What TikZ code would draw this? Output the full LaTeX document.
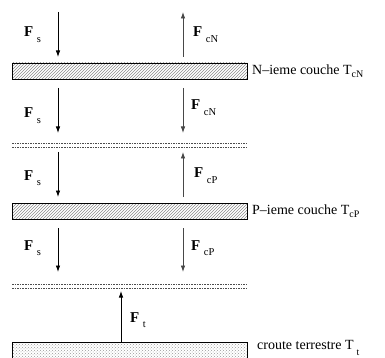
\documentclass[tikz,border=0pt]{standalone}
\usepackage{fontspec}
\setmainfont{Liberation Serif}
\usetikzlibrary{patterns,arrows.meta}
\begin{document}
\begin{tikzpicture}[x=1pt,y=-1pt,
  bar/.style={draw=black,line width=0.7pt,pattern=north east lines,pattern color=black!45,minimum width=235pt,minimum height=16pt,inner sep=0pt,outer sep=0pt},
  force/.style={line width=0.8pt,-{Latex[length=6.5pt,width=4.5pt]}},
  cforce/.style={force,draw=black!72,color=black!72},
  sep/.style={line width=0.6pt,draw=black!70,dash pattern=on 1.6pt off 1pt},
  flabel/.style={inner sep=0pt,font=\fontsize{15}{16}\selectfont},
  side/.style={inner sep=0pt,anchor=west,font=\fontsize{14}{16}\selectfont}]
\useasboundingbox (0,0) rectangle (385,358);
\newcommand{\Flab}[1]{\textbf{F}\hspace{3.5pt}\raisebox{-5.5pt}{\fontsize{10.5}{11}\selectfont #1}}
% bars
\node[bar] (barN) at (129.5,71) {};
\node[bar] (barP) at (129.5,211) {};
\fill[pattern=crosshatch dots,pattern color=black!40] (12,342) rectangle (247,358);
\coordinate (gtl) at (12,342); \coordinate (gtr) at (247,342);
\coordinate (gbl) at (12,358); \coordinate (gbr) at (247,358);
\draw[line width=0.7pt] (gbl) -- (gtl) -- (gtr) -- (gbr);
% side labels
\node[side] (labN) at (252,71) {N–ieme couche T\raisebox{-3.5pt}{\fontsize{10}{11}\selectfont cN}};
\node[side] (labP) at (252,211) {P–ieme couche T\raisebox{-3.5pt}{\fontsize{10}{11}\selectfont cP}};
\node[side] (labT) at (257,348) {croute terrestre T\hspace{3pt}\raisebox{-6pt}{\fontsize{10}{11}\selectfont t}};
% separators
\coordinate (s1a) at (12,143); \coordinate (s1b) at (247,143);
\coordinate (s2a) at (12,147); \coordinate (s2b) at (247,147);
\coordinate (s3a) at (12,284); \coordinate (s3b) at (247,284);
\coordinate (s4a) at (12,288); \coordinate (s4b) at (247,288);
\draw[sep] (s1a) -- (s1b); \draw[sep] (s2a) -- (s2b);
\draw[sep] (s3a) -- (s3b); \draw[sep] (s4a) -- (s4b);
% arrow coordinates
\coordinate (a1t) at (58,12);  \coordinate (a1b) at (58,57);
\coordinate (b1t) at (183,12); \coordinate (b1b) at (183,57);
\coordinate (a2t) at (58,88);  \coordinate (a2b) at (58,133);
\coordinate (b2t) at (183,88); \coordinate (b2b) at (183,133);
\coordinate (a3t) at (58,152); \coordinate (a3b) at (58,197);
\coordinate (b3t) at (183,152); \coordinate (b3b) at (183,197);
\coordinate (a4t) at (58,228); \coordinate (a4b) at (58,272);
\coordinate (b4t) at (183,228); \coordinate (b4b) at (183,272);
\coordinate (ctb) at (121,342); \coordinate (ctt) at (121,291);
\draw[force] (a1t) -- (a1b);
\draw[cforce] (b1b) -- (b1t);
\draw[force] (a2t) -- (a2b);
\draw[cforce] (b2t) -- (b2b);
\draw[force] (a3t) -- (a3b);
\draw[cforce] (b3b) -- (b3t);
\draw[force] (a4t) -- (a4b);
\draw[cforce] (b4t) -- (b4b);
\draw[force] (ctb) -- (ctt);
% force labels
\node[flabel,anchor=base west] (l1) at (24,37) {\Flab{s}};
\node[flabel,anchor=base west] (l2) at (24,118) {\Flab{s}};
\node[flabel,anchor=base west] (l3) at (24,180) {\Flab{s}};
\node[flabel,anchor=base west] (l4) at (24,250) {\Flab{s}};
\node[flabel,anchor=base west] (m1) at (193,37) {\Flab{cN}};
\node[flabel,anchor=base west] (m2) at (191,110) {\Flab{cN}};
\node[flabel,anchor=base west] (m3) at (194,178) {\Flab{cP}};
\node[flabel,anchor=base west] (m4) at (191,250) {\Flab{cP}};
\node[flabel,anchor=base west] (lt) at (130,322) {\Flab{t}};
\end{tikzpicture}
\end{document}
